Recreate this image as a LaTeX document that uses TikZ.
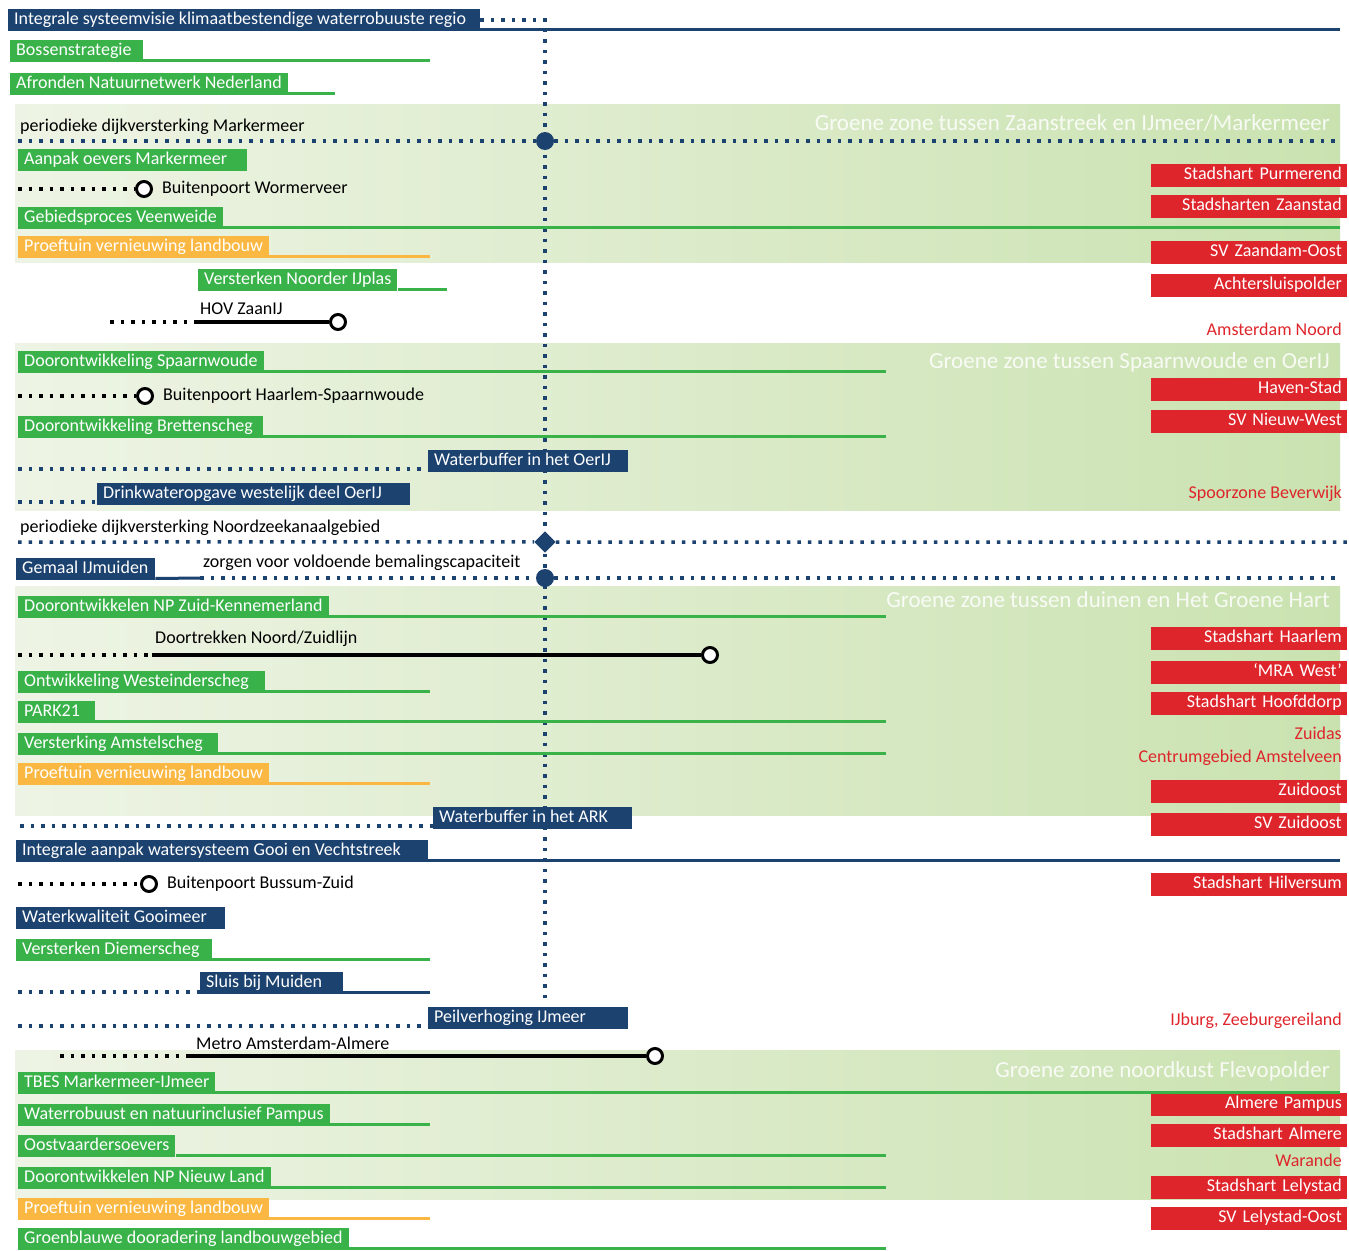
\documentclass[tikz,border=0pt]{standalone}
\usepackage{fontspec}
\setmainfont{Carlito}
\usetikzlibrary{positioning}

\definecolor{navy}{RGB}{28,66,112}
\definecolor{groen}{RGB}{58,178,74}
\definecolor{oranje}{RGB}{250,184,66}
\definecolor{rood}{RGB}{222,37,43}
\definecolor{bandL}{RGB}{238,244,229}
\definecolor{bandR}{RGB}{202,226,176}

\newcommand\balkfont{\fontsize{18}{20}\selectfont}
\newcommand\zonefont{\fontsize{23}{26}\selectfont}
% balk met vaste breedte, tekst links
\newcommand\vak[2]{\makebox[#1][l]{#2}}

\begin{document}
\begin{tikzpicture}[x=1pt,y=-1pt,
    band/.style={left color=bandL,right color=bandR,draw=none},
    balk/.style={anchor=south west,text=white,minimum height=22pt,text height=13pt,text depth=4pt,inner xsep=6pt,inner ysep=0pt,font=\balkfont},
    nv/.style={balk,fill=navy},
    gr/.style={balk,fill=groen},
    oranjebalk/.style={balk,fill=oranje},
    stad/.style={anchor=east,fill=rood,text=white,minimum height=23pt,text height=13pt,text depth=4pt,text width=186pt,align=right,inner xsep=5pt,inner ysep=0pt,font=\balkfont},
    stadtxt/.style={anchor=east,text=rood,inner sep=0pt,font=\balkfont},
    zone/.style={anchor=east,text=white,text opacity=0.85,inner sep=0pt,font=\zonefont},
    lbl/.style={anchor=west,inner sep=0pt,font=\balkfont},
    groenlijn/.style={draw=groen,line width=3pt},
    navylijn/.style={draw=navy,line width=3pt},
    oranjelijn/.style={draw=oranje,line width=3pt},
    metrolijn/.style={draw=black,line width=4pt},
    navystip/.style={draw=navy,line width=3.5pt,dash pattern=on 3.5pt off 7pt},
    zwartstip/.style={draw=black,line width=3.5pt,dash pattern=on 3.5pt off 7pt},
    halte/.style={circle,draw=black,line width=3pt,fill=white,minimum size=15pt,inner sep=0pt},
    knoop/.style={circle,fill=navy,minimum size=18pt,inner sep=0pt},
]
\useasboundingbox (0,0) rectangle (1349,1250);

% kolommen waar de lijnen eindigen
\coordinate (as) at (545,0);
\coordinate (kort) at (430,0);
\coordinate (midden) at (886,0);
\coordinate (rechts) at (1340,0);
\coordinate (asEind) at (545,1005);

%%%
% groene zones
\path[band] (15,104) rectangle (1340,262);
\path[band] (15,343) rectangle (1340,510);
\path[band] (15,586) rectangle (1340,815);
\path[band] (15,1050) rectangle (1340,1199);
\node[zone] (zone1) at (1330,123) {Groene zone tussen Zaanstreek en IJmeer/Markermeer};
\node[zone] (zone2) at (1330,362) {Groene zone tussen Spaarnwoude en OerIJ};
\node[zone] (zone3) at (1330,600) {Groene zone tussen duinen en Het Groene Hart};
\node[zone] (zone4) at (1330,1071) {Groene zone noordkust Flevopolder};

%%%
% systeemvisie en tijdas
\node[nv] (isv) at (8,31) {\vak{460pt}{Integrale systeemvisie klimaatbestendige waterrobuuste regio}};
\draw[navystip] (isv.east) -- (as |- isv.east) -- (asEind);
\draw[navylijn] ([yshift=1.5pt]isv.south east) -- ([yshift=1.5pt]isv.south east -| rechts);

\node[gr] (bos) at (10,62) {\vak{121pt}{Bossenstrategie}};
\draw[groenlijn] ([yshift=1.5pt]bos.south east) -- ([yshift=1.5pt]bos.south east -| kort);
\node[gr] (nnn) at (10,95) {Afronden Natuurnetwerk Nederland};
\coordinate (nnnE) at (335,0);
\draw[groenlijn] ([yshift=1.5pt]nnn.south east) -- ([yshift=1.5pt]nnn.south east -| nnnE);

%%%
% Zaanstreek en IJmeer/Markermeer
\node[lbl] (dijk1) at (20,127) {periodieke dijkversterking Markermeer};
\node[knoop] (k1) at (545,141) {};
\coordinate (k1W) at (18,141);
\coordinate (k1E) at (1340,141);
\draw[navystip] (k1W) -- (k1) -- (k1E);

\node[gr] (aom) at (18,171) {\vak{217pt}{Aanpak oevers Markermeer}};

\coordinate (bwW) at (18,189);
\node[halte] (bw) at (144,189) {};
\draw[zwartstip] (bwW) -- (bw);
\node[lbl,right=9pt of bw] (bwt) {Buitenpoort Wormerveer};

\node[gr] (gpv) at (18,229) {Gebiedsproces Veenweide};
\draw[groenlijn] ([yshift=1.5pt]gpv.south east) -- ([yshift=1.5pt]gpv.south east -| rechts);
\node[oranjebalk] (pvl1) at (18,258) {Proeftuin vernieuwing landbouw};
\draw[oranjelijn] ([yshift=1.5pt]pvl1.south east) -- ([yshift=1.5pt]pvl1.south east -| kort);
\node[gr] (nij) at (198,291) {Versterken Noorder IJplas};
\coordinate (nijE) at (447,0);
\draw[groenlijn] ([yshift=1.5pt]nij.south east) -- ([yshift=1.5pt]nij.south east -| nijE);

\coordinate (hovW) at (110,322);
\coordinate (hovA) at (195,322);
\node[halte] (hov) at (338,322) {};
\draw[zwartstip] (hovW) -- (hovA);
\draw[metrolijn] (hovA) -- (hov);
\node[lbl] (hovt) at (200,309) {HOV ZaanIJ};

\node[stad] (purm) at (1347,175) {Stadshart Purmerend};
\node[stad] (zaan) at (1347,206) {Stadsharten Zaanstad};
\node[stad] (zoost) at (1347,252) {SV Zaandam-Oost};
\node[stad] (achter) at (1347,285) {Achtersluispolder};
\node[stadtxt] (amnrd) at (1342,329) {Amsterdam Noord};

%%%
% Spaarnwoude en OerIJ
\node[gr] (dsp) at (18,373) {Doorontwikkeling Spaarnwoude};
\draw[groenlijn] ([yshift=1.5pt]dsp.south east) -- ([yshift=1.5pt]dsp.south east -| midden);

\coordinate (bhW) at (18,396);
\node[halte] (bh) at (145,396) {};
\draw[zwartstip] (bhW) -- (bh);
\node[lbl,right=9pt of bh] (bht) {Buitenpoort Haarlem-Spaarnwoude};

\node[gr] (dbs) at (18,438) {\vak{233pt}{Doorontwikkeling Brettenscheg}};
\draw[groenlijn] ([yshift=1.5pt]dbs.south east) -- ([yshift=1.5pt]dbs.south east -| midden);

\node[nv] (wbo) at (428,472) {\vak{188pt}{Waterbuffer in het OerIJ}};
\coordinate (wboW) at (18,469);
\draw[navystip] (wboW) -- (wbo.south west |- wboW);
\node[nv] (dwo) at (97,505) {\vak{301pt}{Drinkwateropgave westelijk deel OerIJ}};
\coordinate (dwoW) at (18,502);
\draw[navystip] (dwoW) -- (dwo.south west |- dwoW);

\node[stad] (haven) at (1347,389) {Haven-Stad};
\node[stad] (nwest) at (1347,421) {SV Nieuw-West};
\node[stadtxt] (bever) at (1342,494) {Spoorzone Beverwijk};

%%%
% Noordzeekanaalgebied
\node[lbl] (dijk2) at (20,528) {periodieke dijkversterking Noordzeekanaalgebied};
\node[fill=navy,rotate=45,minimum size=15pt,inner sep=0pt] (k2) at (545,542) {};
\coordinate (k2W) at (18,542);
\coordinate (k2E) at (1347,542);
\draw[navystip] (k2W) -- (k2) -- (k2E);

\node[nv] (gij) at (16,580) {\vak{127pt}{Gemaal IJmuiden}};
\coordinate (gijA) at (200,578);
\coordinate (gijE) at (1340,578);
\node[knoop] (k3) at (545,578) {};
\draw[navylijn] ([yshift=1.5pt]gij.south east) -- (gijA);
\draw[navystip] (gijA) -- (k3) -- (gijE);
\node[lbl] (bemal) at (203,563) {zorgen voor voldoende bemalingscapaciteit};

%%%
% duinen en Het Groene Hart
\node[gr] (npzk) at (18,618) {Doorontwikkelen NP Zuid-Kennemerland};
\draw[groenlijn] ([yshift=1.5pt]npzk.south east) -- ([yshift=1.5pt]npzk.south east -| midden);

\coordinate (nzW) at (18,655);
\coordinate (nzA) at (152,655);
\node[halte] (nz) at (710,655) {};
\draw[zwartstip] (nzW) -- (nzA);
\draw[metrolijn] (nzA) -- (nz);
\node[lbl] (nzt) at (155,639) {Doortrekken Noord/Zuidlijn};

\node[gr] (wes) at (18,693) {\vak{235pt}{Ontwikkeling Westeinderscheg}};
\draw[groenlijn] ([yshift=1.5pt]wes.south east) -- ([yshift=1.5pt]wes.south east -| kort);
\node[gr] (park) at (18,723) {\vak{65pt}{PARK21}};
\draw[groenlijn] ([yshift=1.5pt]park.south east) -- ([yshift=1.5pt]park.south east -| midden);
\node[gr] (ams) at (18,755) {\vak{188pt}{Versterking Amstelscheg}};
\draw[groenlijn] ([yshift=1.5pt]ams.south east) -- ([yshift=1.5pt]ams.south east -| midden);
\node[oranjebalk] (pvl2) at (18,785) {Proeftuin vernieuwing landbouw};
\draw[oranjelijn] ([yshift=1.5pt]pvl2.south east) -- ([yshift=1.5pt]pvl2.south east -| kort);

\node[nv] (wba) at (433,829) {\vak{187pt}{Waterbuffer in het ARK}};
\coordinate (wbaW) at (20,826);
\draw[navystip] (wbaW) -- (wba.south west |- wbaW);

\node[stad] (haarlem) at (1347,638) {Stadshart Haarlem};
\node[stad] (mra) at (1347,672) {`MRA West'};
\node[stad] (hfd) at (1347,703) {Stadshart Hoofddorp};
\node[stadtxt] (zuidas) at (1342,733) {Zuidas};
\node[stadtxt] (amstv) at (1342,758) {Centrumgebied Amstelveen};
\node[stad] (zo) at (1347,791) {Zuidoost};
\node[stad] (svzo) at (1347,824) {SV Zuidoost};

%%%
% Gooi en Vechtstreek, IJmeer
\node[nv] (gooi) at (16,862) {\vak{400pt}{Integrale aanpak watersysteem Gooi en Vechtstreek}};
\draw[navylijn] ([yshift=1.5pt]gooi.south east) -- ([yshift=1.5pt]gooi.south east -| rechts);

\coordinate (bbW) at (18,884);
\node[halte] (bb) at (149,884) {};
\draw[zwartstip] (bbW) -- (bb);
\node[lbl,right=9pt of bb] (bbt) {Buitenpoort Bussum-Zuid};

\node[nv] (wkg) at (16,929) {\vak{197pt}{Waterkwaliteit Gooimeer}};
\node[gr] (dms) at (16,961) {\vak{184pt}{Versterken Diemerscheg}};
\draw[groenlijn] ([yshift=1.5pt]dms.south east) -- ([yshift=1.5pt]dms.south east -| kort);

\node[nv] (sluis) at (200,994) {\vak{131pt}{Sluis bij Muiden}};
\coordinate (sluisW) at (18,992);
\draw[navystip] (sluisW) -- (sluis.south west |- sluisW);
\draw[navylijn] ([yshift=1.5pt]sluis.south east) -- ([yshift=1.5pt]sluis.south east -| kort);

\node[nv] (peil) at (428,1029) {\vak{188pt}{Peilverhoging IJmeer}};
\coordinate (peilW) at (18,1026);
\draw[navystip] (peilW) -- (peil.south west |- peilW);

\coordinate (maW) at (60,1056);
\coordinate (maA) at (190,1056);
\node[halte] (ma) at (655,1056) {};
\draw[zwartstip] (maW) -- (maA);
\draw[metrolijn] (maA) -- (ma);
\node[lbl] (mat) at (196,1043) {Metro Amsterdam-Almere};

\node[stad] (hilv) at (1347,884) {Stadshart Hilversum};
\node[stadtxt] (ijburg) at (1342,1021) {IJburg, Zeeburgereiland};

%%%
% noordkust Flevopolder
\node[stad] (pampus) at (1347,1104) {Almere Pampus};
\node[stad] (almere) at (1347,1135) {Stadshart Almere};
\node[stadtxt] (warande) at (1342,1160) {Warande};
\node[stad] (lely) at (1347,1187) {Stadshart Lelystad};
\node[stad] (lelyo) at (1347,1218) {SV Lelystad-Oost};

\node[gr] (tbes) at (18,1094) {\vak{185pt}{TBES Markermeer-IJmeer}};
\draw[groenlijn] ([yshift=1.5pt]tbes.south east) -- ([yshift=1.5pt]tbes.south east -| rechts);
\node[gr] (pamp) at (18,1126) {Waterrobuust en natuurinclusief Pampus};
\draw[groenlijn] ([yshift=1.5pt]pamp.south east) -- ([yshift=1.5pt]pamp.south east -| kort);
\node[gr] (ovo) at (18,1157) {Oostvaardersoevers};
\draw[groenlijn] ([yshift=1.5pt]ovo.south east) -- ([yshift=1.5pt]ovo.south east -| midden);
\node[gr] (npnl) at (18,1189) {Doorontwikkelen NP Nieuw Land};
\draw[groenlijn] ([yshift=1.5pt]npnl.south east) -- ([yshift=1.5pt]npnl.south east -| midden);
\node[oranjebalk] (pvl3) at (18,1220) {Proeftuin vernieuwing landbouw};
\draw[oranjelijn] ([yshift=1.5pt]pvl3.south east) -- ([yshift=1.5pt]pvl3.south east -| kort);
\node[gr] (gbd) at (18,1250) {Groenblauwe dooradering landbouwgebied};
\draw[groenlijn] ([yshift=1.5pt]gbd.south east) -- ([yshift=1.5pt]gbd.south east -| midden);

\end{tikzpicture}
\end{document}
